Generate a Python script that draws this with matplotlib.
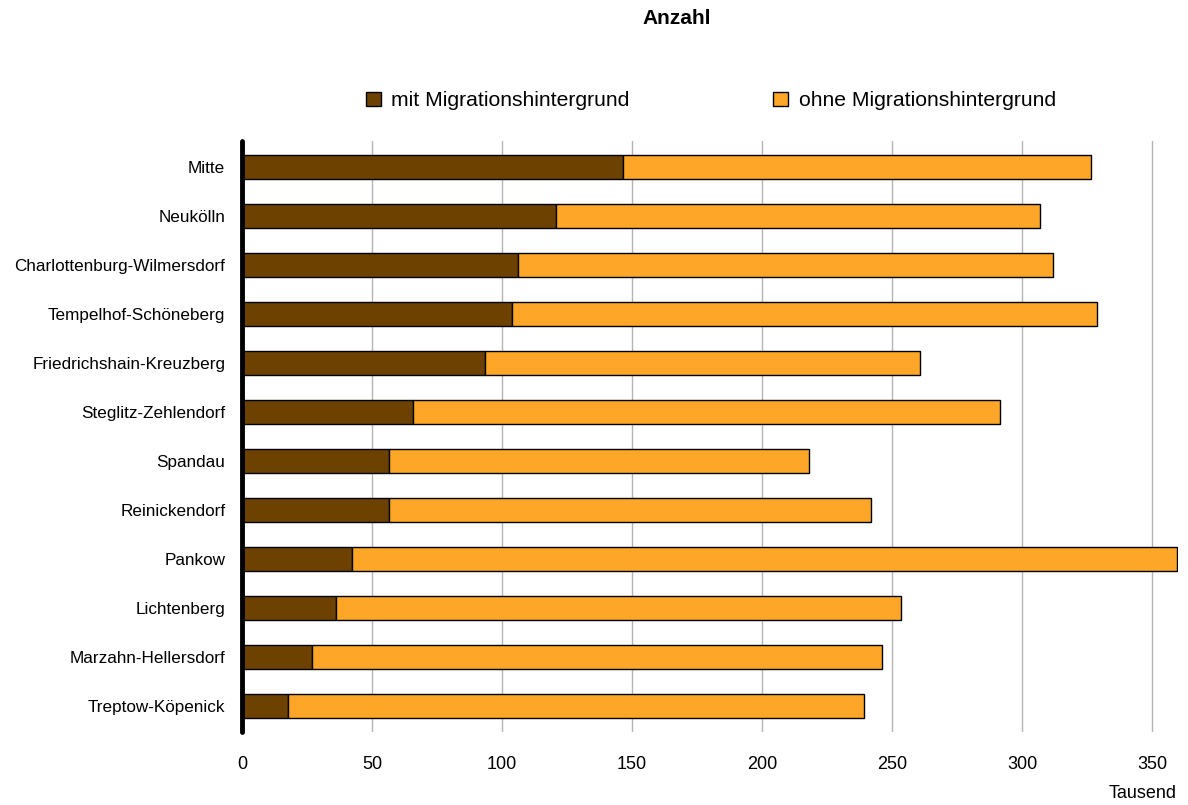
import matplotlib
matplotlib.use("Agg")
import matplotlib.pyplot as plt
from matplotlib.patches import Patch

plt.rcParams['font.family'] = ['Liberation Sans', 'DejaVu Sans']

# Bezirke von oben nach unten
bezirke = ["Mitte", "Neukölln", "Charlottenburg-Wilmersdorf", "Tempelhof-Schöneberg",
           "Friedrichshain-Kreuzberg", "Steglitz-Zehlendorf", "Spandau", "Reinickendorf",
           "Pankow", "Lichtenberg", "Marzahn-Hellersdorf", "Treptow-Köpenick"]
# Tausend Einwohner
mit_mig = [146.4, 120.6, 106.3, 103.7, 93.6, 65.7, 56.4, 56.4, 42.2, 36.0, 27.0, 17.6]
gesamt = [326.4, 307.0, 312.1, 329.0, 260.9, 291.4, 218.0, 242.1, 359.8, 253.5, 246.0, 239.3]
ohne_mig = [g - m for g, m in zip(gesamt, mit_mig)]

c_mit = "#6d4100"
c_ohne = "#fda627"

fig = plt.figure(figsize=(11.88, 8.05), dpi=100)
ax = fig.add_axes([242/1188, 1 - 732/805, (1178 - 242)/1188, (732 - 141)/805])

y = list(range(len(bezirke)))
ax.barh(y, mit_mig, height=0.5, color=c_mit, edgecolor="black", linewidth=1, zorder=3)
ax.barh(y, ohne_mig, left=mit_mig, height=0.5, color=c_ohne, edgecolor="black", linewidth=1, zorder=3)

ax.set_xlim(0, 360)
ax.set_ylim(len(bezirke) - 0.47, -0.53)
ax.set_yticks(y)
ax.set_yticklabels(bezirke, fontsize=12.3)
ax.set_xticks([0, 50, 100, 150, 200, 250, 300, 350])
ax.tick_params(axis="x", length=0, labelsize=13, pad=17)
ax.tick_params(axis="y", length=0, pad=12)
ax.xaxis.grid(True, color="#b4b4b4", linewidth=1, zorder=0)
for s in ["top", "right", "bottom"]:
    ax.spines[s].set_visible(False)
ax.spines["left"].set_linewidth(3.5)
ax.spines["left"].set_capstyle("round")
ax.spines["left"].set_zorder(5)

fig.text(677/1188, 1 - 18/805, "Anzahl", ha="center", va="center", fontsize=15, fontweight="bold")
fig.text(1177/1188, 1 - 793/805, "Tausend", ha="right", va="center", fontsize=13)

handles = [Patch(facecolor=c_mit, edgecolor="black", label="mit Migrationshintergrund"),
           Patch(facecolor=c_ohne, edgecolor="black", label="ohne Migrationshintergrund")]
fig.legend(handles=handles, loc="center", bbox_to_anchor=(711/1188, 1 - 101/805), ncol=2,
           frameon=False, fontsize=15.2, handlelength=0.7, handleheight=0.7, handletextpad=0.5,
           columnspacing=6.8)

fig.savefig("out.png", dpi=100)
